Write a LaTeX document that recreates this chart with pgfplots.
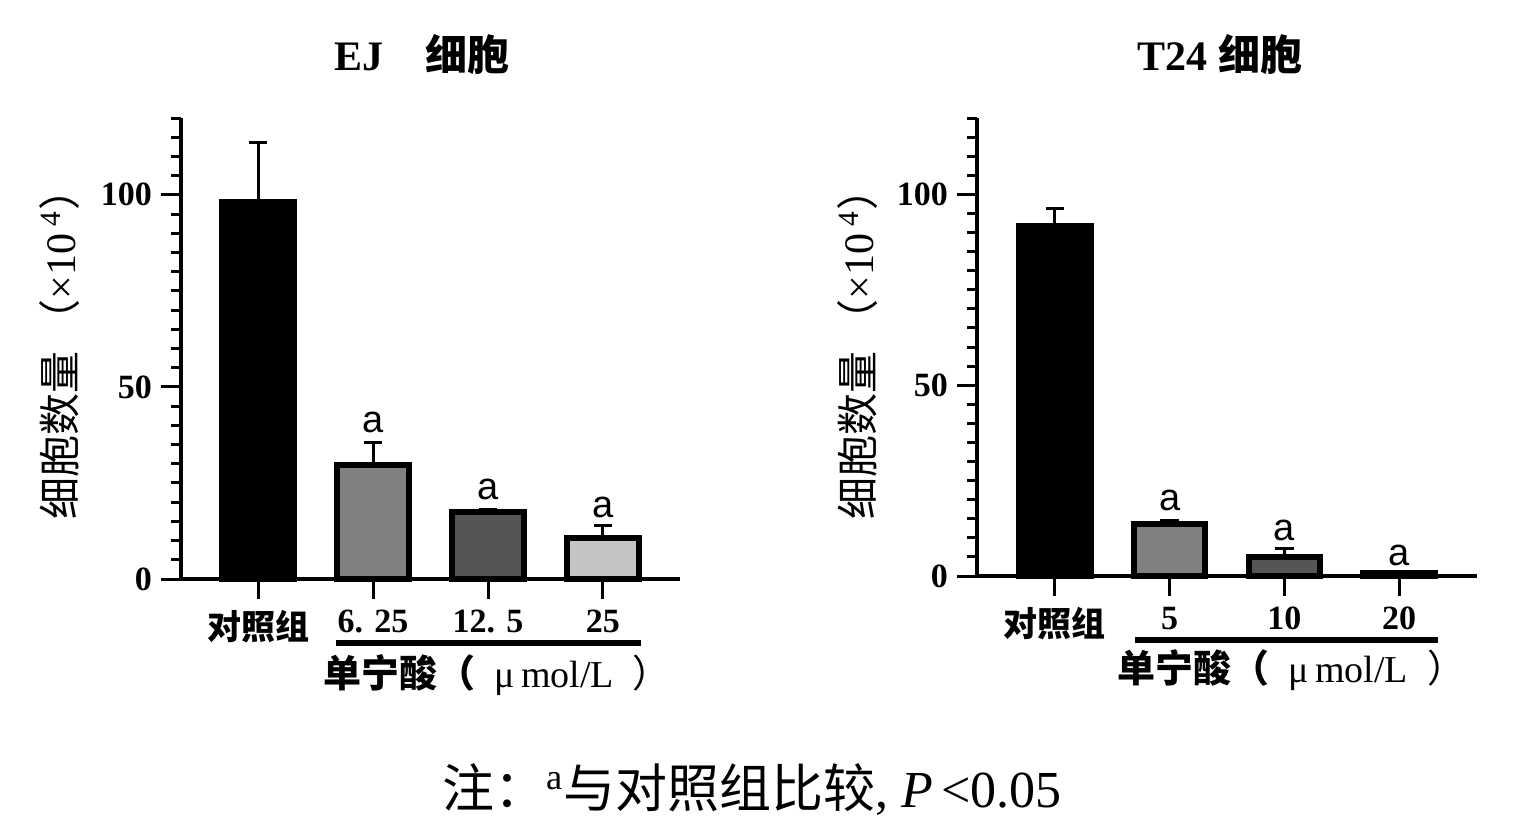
\documentclass[border=0pt]{standalone}
\usepackage{fontspec}
\setmainfont{Liberation Serif}
\newfontfamily\cjk{Noto Sans CJK SC}
\newfontfamily\asans{Liberation Sans}
\usepackage{pgfplots}
\pgfplotsset{compat=1.18}
\definecolor{midgray}{HTML}{808080}
\definecolor{darkgray2}{HTML}{555555}
\definecolor{lightgray2}{HTML}{C4C4C4}
\pgfplotsset{
 panel/.style={
  scale only axis, width=249.5pt, height=230.5pt,
  xmin=-0.67, xmax=3.67, ymin=0, ymax=120,
  axis x line=bottom, axis y line=left,
  axis line style={-, line width=2pt, black},
  xtick={0,1,2,3}, ytick={0,50,100}, minor ytick={5,10,...,120},
  tick align=outside, major tick length=10pt, minor tick length=5pt,
  tick style={black, line width=1.5pt},
  clip=false,
  /pgf/number format/assume math mode=true,
  yticklabel style={font=\fontsize{17}{20}\selectfont\bfseries, xshift=-1pt},
  xticklabel style={font=\fontsize{17}{20}\selectfont\bfseries, yshift=-2pt},
 },
 mybar/.style={ybar, bar width=0.62, bar shift=0pt, draw=black, line width=3pt,
   error bars/y dir=plus, error bars/y explicit,
   error bars/error bar style={line width=1.5pt, black},
   error bars/error mark options={rotate=90, line width=1.5pt, mark size=4.6pt, black}},
}
\newcommand{\amark}{\asans\fontsize{19}{20}\selectfont a}
\begin{document}
\begin{tikzpicture}
\useasboundingbox (0,0) rectangle (759pt,-414.5pt);
% titles
\node[font=\fontsize{21}{24}\selectfont\bfseries] at (211pt,-27.5pt) {EJ{\cjk\bfseries 　细胞}};
\node[font=\fontsize{21}{24}\selectfont\bfseries] at (610pt,-27.5pt) {T24 {\cjk\bfseries 细胞}};
% y labels
\node[rotate=90, font=\fontsize{21}{24}\selectfont] at (30pt,-172pt) {{\cjk 细胞数量 （}×10\textsuperscript{ 4}{\cjk ）}};
\node[rotate=90, font=\fontsize{21}{24}\selectfont] at (429pt,-172pt) {{\cjk 细胞数量 （}×10\textsuperscript{ 4}{\cjk ）}};
% note
\node[font=\fontsize{26}{30}\selectfont] at (376pt,-395pt) {{\cjk 注：}\textsuperscript{a}{\cjk 与对照组比较}, \textit{P}\,<0.05};

\begin{axis}[panel, at={(90.5pt,-289.5pt)}, anchor=south west,
  xticklabels={{\cjk\bfseries 对照组},6. 25,12. 5,25}]
\addplot[mybar, fill=black] coordinates {(0,98.2) +- (0,15.3)};
\addplot[mybar, fill=midgray] coordinates {(1,29.8) +- (0,5.8)};
\addplot[mybar, fill=darkgray2] coordinates {(2,17.4) +- (0,0.8)};
\addplot[mybar, fill=lightgray2] coordinates {(3,10.7) +- (0,3.1)};
\node at (axis cs:1,40.7) {\amark};
\node at (axis cs:2,23.2) {\amark};
\node at (axis cs:3,18.5) {\amark};
\draw[line width=3pt] (axis cs:0.68,-16.7) -- (axis cs:3.33,-16.7);
\node[font=\fontsize{19}{22}\selectfont] at (axis cs:2.08,-25) {{\cjk\bfseries 单宁酸（}\enspace μ\,mol/L\enspace{\cjk ）}};
\end{axis}

\begin{axis}[panel, at={(488.5pt,-288pt)}, anchor=south west, xmin=-0.68, xmax=3.68, width=250pt, height=229pt,
  xticklabels={{\cjk\bfseries 对照组},5,10,20}]
\addplot[mybar, fill=black] coordinates {(0,91.8) +- (0,4.5)};
\addplot[mybar, fill=midgray] coordinates {(1,13.5) +- (0,1.0)};
\addplot[mybar, fill=darkgray2] coordinates {(2,5.1) +- (0,2.2)};
\addplot[mybar, fill=lightgray2] coordinates {(3,0.8) +- (0,0.3)};
\node at (axis cs:1,19.9) {\amark};
\node at (axis cs:2,12.0) {\amark};
\node at (axis cs:3,5.5) {\amark};
\draw[line width=3pt] (axis cs:0.70,-16.8) -- (axis cs:3.34,-16.8);
\node[font=\fontsize{19}{22}\selectfont] at (axis cs:2.06,-24.6) {{\cjk\bfseries 单宁酸（}\enspace μ\,mol/L\enspace{\cjk ）}};
\end{axis}
\end{tikzpicture}
\end{document}
